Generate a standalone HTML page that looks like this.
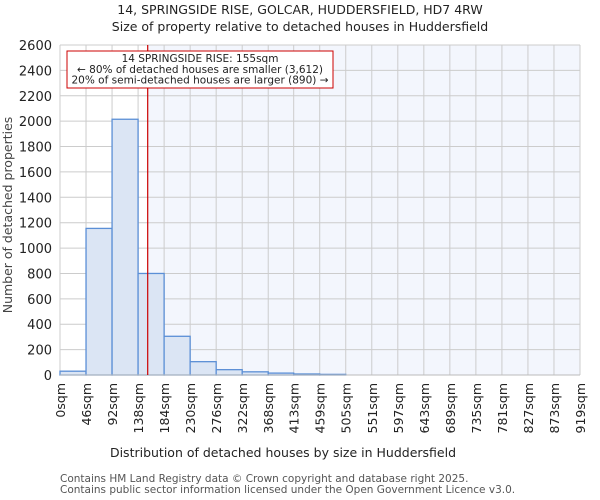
<!DOCTYPE html>
<html><head><meta charset="utf-8"><style>
body{margin:0;background:#fff;}
svg{display:block;font-family:"DejaVu Sans","Liberation Sans",sans-serif;}
</style></head><body>
<svg id="chart" width="600" height="500">
<text x="300" y="14" text-anchor="middle" font-size="12.5" fill="#222">14, SPRINGSIDE RISE, GOLCAR, HUDDERSFIELD, HD7 4RW</text>
<text x="300" y="31" text-anchor="middle" font-size="12.5" fill="#222">Size of property relative to detached houses in Huddersfield</text>
<g id="plot"></g>
<text x="283" y="457" text-anchor="middle" font-size="12.5" fill="#222">Distribution of detached houses by size in Huddersfield</text>
<text transform="translate(12,215) rotate(-90)" text-anchor="middle" font-size="12.5" fill="#444">Number of detached properties</text>
<text x="60" y="482" font-size="10.5" fill="#555">Contains HM Land Registry data © Crown copyright and database right 2025.</text>
<text x="60" y="493" font-size="10.5" fill="#555">Contains public sector information licensed under the Open Government Licence v3.0.</text>
</svg>
<script>
const binEdges = [0,46,92,138,184,230,276,322,368,413,459,505,551,597,643,689,735,781,827,873,919];
const counts = [30,1155,2015,800,305,105,42,25,15,8,5,0,0,0,0,0,0,0,0,0];
const yTicks = [0,200,400,600,800,1000,1200,1400,1600,1800,2000,2200,2400,2600];
const propertySize = 155;
const NS="http://www.w3.org/2000/svg";
const L=60,R=580,T=45,B=375,XMAX=919,YMAX=2600;
const xs=v=>L+v/XMAX*(R-L);
const ys=v=>B-v/YMAX*(B-T);
const g=document.getElementById('plot');
function mk(t,a,p){const e=document.createElementNS(NS,t);for(const k in a)e.setAttribute(k,a[k]);(p||g).appendChild(e);return e;}
const px=xs(propertySize);
let e=mk('rect',{x:L,y:T,width:R-L,height:B-T,fill:'#ffffff'});


e=mk('rect',{x:px,y:T,width:R-px,height:B-T,fill:'#f3f6fd'});


yTicks.forEach(v=>{
 const l=mk('line',{x1:L,x2:R,y1:ys(v),y2:ys(v),stroke:'#cccccc','stroke-width':1});
 
 
 const t=mk('text',{x:L-8,y:ys(v)+5,'text-anchor':'end','font-size':'13',fill:'#222'});
 t.textContent=v;
 
 
});
binEdges.forEach(v=>{
 const l=mk('line',{x1:xs(v),x2:xs(v),y1:T,y2:B,stroke:'#cccccc','stroke-width':1});
 
 
 const t=mk('text',{transform:`translate(${xs(v)+5},383) rotate(-90)`,'text-anchor':'end','font-size':'12.5',fill:'#222'});
 t.textContent=v+'sqm';
 
 
});
counts.forEach((c,i)=>{
 if(c<=0)return;
 const x0=xs(binEdges[i]),x1=xs(binEdges[i+1]);
 const r=mk('rect',{x:x0,y:ys(c),width:x1-x0,height:B-ys(c),fill:'#dbe5f4',stroke:'#5b8fd6','stroke-width':1.3});
 
 
});
e=mk('line',{x1:L,x2:R,y1:B,y2:B,stroke:'#bbbbbb','stroke-width':1});


e=mk('line',{x1:px,x2:px,y1:T,y2:B,stroke:'#cc0000','stroke-width':1.2});


e=mk('rect',{x:67,y:51,width:266,height:37,fill:'#ffffff',stroke:'#cc0000','stroke-width':1});


const lines=['14 SPRINGSIDE RISE: 155sqm','← 80% of detached houses are smaller (3,612)','20% of semi-detached houses are larger (890) →'];
lines.forEach((s,i)=>{
 const t=mk('text',{x:200,y:62+i*10.8,'text-anchor':'middle','font-size':'10.5',fill:'#222'});
 t.textContent=s;
 
 
});
</script>
</body></html>
